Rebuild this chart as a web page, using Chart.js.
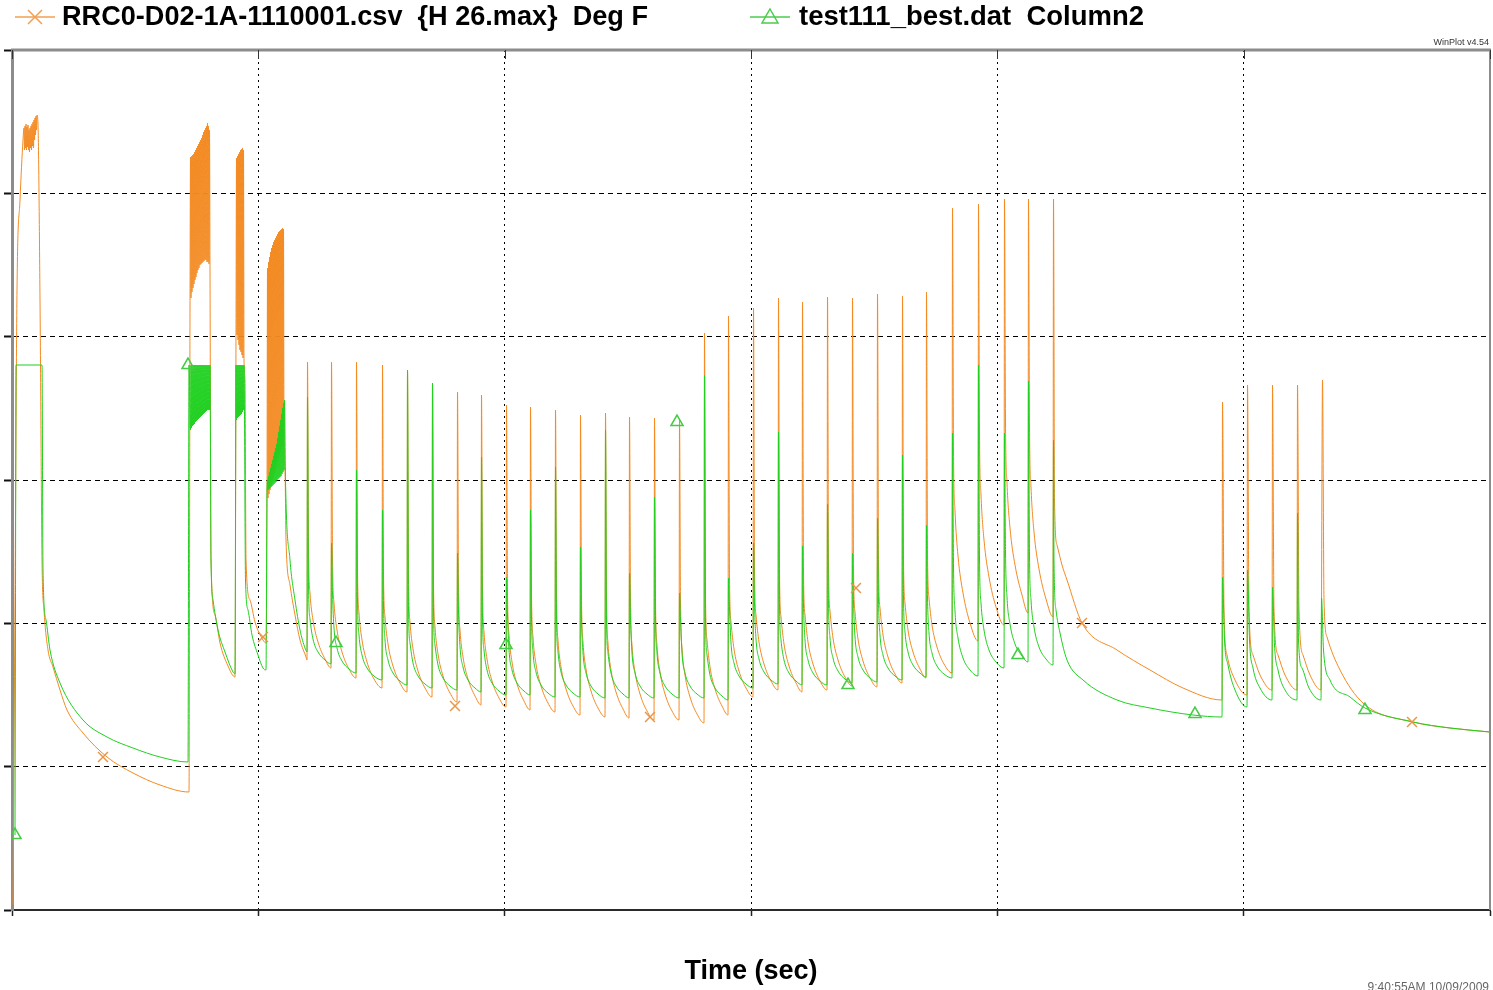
<!DOCTYPE html>
<html><head><meta charset="utf-8">
<script src="https://cdn.jsdelivr.net/npm/chart.js@4.4.1/dist/chart.umd.min.js"></script>
<style>html,body{margin:0;padding:0;background:#fff;overflow:hidden}#wrap{position:relative;width:1493px;height:990px}</style>
</head><body><div id="wrap"><canvas id="c"></canvas></div>
<script>
const seriesNames = ['RRC0-D02-1A-1110001.csv  {H 26.max}  Deg F', 'test111_best.dat  Column2'];
const timeTicks = [0, 246.33, 492.67, 739, 985.33, 1231.67, 1478];
const tempTicks = [-2, 141.33, 284.67, 428, 571.33, 714.67, 858];

const rrcPoints = [
[1,3],[3,308],[5,618],[8,708],[11,768],
[12,780],[12.5,758],[13,782],[13.5,760],[14,784],[14.5,758],[15,781],[15.5,761],[16,783],[16.5,758],[17,778],[17.5,756],[18,780],[18.5,760],[19,782],[19.5,758],[20,784],[20.5,762],[21,786],[21.5,760],[22,788],[22.5,768],[23,790],[23.5,773],[24,792],[24.5,778],[25,793],
[26,783],[28,608],[30,348],[32,298],[36,258],[41,241],[48,218],[55,198],[71,175],[95,151],[121,135],[148,123],[177,116],
[178,601],[178.5,751],[179,610],[179.5,752],[180,616],[180.5,753],[181,620],[181.5,754],[182,624],[182.5,756],[183,628],[183.5,758],[184,631],[184.5,760],[185,635],[185.5,762],[186,638],[186.5,764],[187,640],[187.5,766],[188,643],[188.5,768],[189,644],[189.5,770],[190,645],[190.5,773],[191,646],[191.5,776],[192,647],[192.5,778],[193,648],[193.5,780],[194,648],[194.5,782],[195,646],[195.5,785],[196,646],[196.5,782],[197,644],[197.5,778],
[198,638],[199,348],[203,293],[208,265],[216,242],[223,231],
[224,578],[224.5,750],[225,573],[225.5,752],[226,568],[226.5,754],[227,563],[227.5,756],[228,558],[228.5,758],[229,556],[229.5,759],[230,553],[230.5,760],[231,550],[231.5,758],[232,548],
[233,528],[234,348],[238,308],[243,286],[251,268],[254,265],
[255,408],[255.5,640],[256,410],[256.5,646],[257,414],[257.5,651],[258,418],[258.5,656],[259,422],[259.5,660],[260,426],[260.5,663],[261,430],[261.5,666],[262,434],[262.5,668],[263,438],[263.5,670],[264,442],[264.5,672],[265,446],[265.5,674],[266,450],[266.5,676],[267,453],[267.5,677],[268,456],[268.5,678],[269,459],[269.5,679],[270,462],[270.5,680],[271,465],[271.5,679],[272,468],
[273,438],[274,368],[278,323],[283,293],[288,268],[294,251],
[295,248],[295.5,546],[296.5,360],[298,315],[301,288],[306,266],[313,249],
[319,240],[319.5,546],[320.5,350],[322,305],[325,278],[330,256],[337,239],
[344,230],[344.5,546],[345.5,340],[347,295],[350,268],[355,246],[362,229],
[370,220],[370.5,543],[371.5,336],[373,291],[376,264],[381,242],[388,225],
[395,216],[395.5,538],[396.5,331],[398,286],[401,259],[406,237],[413,220],
[420,211],[420.5,523],[421.5,326],[423,281],[426,254],[431,232],[438,215],
[445,206],[445.5,516],[446.5,323],[448,278],[451,251],[456,229],[463,212],
[469,203],[469.5,513],[470.5,321],[472,276],[475,249],[480,227],[487,210],
[494,201],[494.5,503],[495.5,318],[497,273],[500,246],[505,224],[512,207],
[518,198],[518.5,501],[519.5,316],[521,271],[524,244],[529,222],[536,205],
[543,196],[543.5,498],[544.5,313],[546,268],[549,241],[554,219],[561,202],
[568,193],[568.5,493],[569.5,311],[571,266],[574,239],[579,217],[586,200],
[593,191],[593.5,495],[594.5,310],[596,265],[599,238],[604,216],[611,199],
[617,190],[617.5,491],[618.5,308],[620,263],[623,236],[628,214],[635,197],
[642,188],[642.5,490],[643.5,308],[645,263],[648,236],[653,214],[660,197],
[667,188],[667.5,488],[668.5,305],[670,260],[673,233],[678,211],[685,194],
[692,185],[692.5,575],[693.5,313],[695,268],[698,241],[703,219],[710,202],
[716,193],[716.5,592],[717.5,331],[719,286],[722,259],[727,237],[734,220],
[741,211],[741.5,600],[742.5,338],[744,293],[747,266],[752,244],[759,227],
[766,218],[766.5,610],[767.5,336],[769,291],[772,264],[777,242],[784,225],
[790,216],[790.5,606],[791.5,338],[793,293],[796,266],[801,244],[808,227],
[815,218],[815.5,611],[816.5,342],[818,297],[821,270],[826,248],[833,231],
[840,222],[840.5,610],[841.5,341],[843,296],[846,269],[851,247],[858,230],
[865,221],[865.5,614],[866.5,345],[868,300],[871,273],[876,251],[883,234],
[890,225],[890.5,612],[891.5,350],[893,305],[896,278],[901,256],[908,239],
[914,230],[914.5,616],[915.5,355],[917,310],[920,283],[925,261],[932,244],
[940,235],[940.5,700],[941.5,457],[943,397],[946,352],[951,315],[958,285],
[966,267],[966.5,704],[967.5,473],[969,413],[972,368],[977,331],[984,301],
[992,283],[992.5,709],[993.5,485],[995,425],[998,380],[1003,343],[1010,313],
[1016,295],[1016.5,709],[1017.5,481],[1019,421],[1022,376],[1027,339],[1034,309],
[1041,291],[1041.5,709],[1042.5,408],[1045,363],[1050,343],[1055,328],[1070,285],[1105,258],[1138,238],[1171,220],[1210,208],
[1210.5,506],[1212,298],[1215,253],[1223,228],[1235,213],
[1235.5,523],[1237,298],[1241,253],[1248,233],[1260,218],
[1260.5,523],[1262,298],[1266,253],[1273,233],[1285,218],
[1285.5,523],[1287,298],[1291,253],[1298,233],[1309,218],
[1310.5,528],[1312,308],[1315,271],[1328,238],[1351,205],[1401,186],[1438,180],[1478,176]
];

const simPoints = [
[3,73],[3.5,308],[4,543],[30,543],[31,338],[34,288],[38,258],[48,225],[71,188],[95,171],[121,160],[148,151],[176,146],[177,543],
[178.5,478],[179,543],[179.5,480],[180,543],[180.5,482],[181,543],[181.5,483],[182,543],[182.5,484],[183,543],[183.5,486],[184,543],[184.5,487],[185,543],[185.5,488],[186,543],[186.5,489],[187,543],[187.5,490],[188,543],[188.5,491],[189,543],[189.5,492],[190,543],[190.5,493],[191,543],[191.5,494],[192,543],[192.5,495],[193,543],[193.5,496],[194,543],[194.5,497],[195,543],[195.5,498],[196,543],[196.5,498],[197,543],[197.5,498],[198,543],
[199,348],[201,308],[206,278],[213,256],[221,236],[223,234],[224,543],
[224.5,488],[225,543],[225.5,490],[226,543],[226.5,491],[227,543],[227.5,492],[228,543],[228.5,493],[229,543],[229.5,494],[230,543],[230.5,496],[231,543],[231.5,498],[232,543],
[233.5,328],[236,298],[240,273],[246,253],[251,240],[254,238],[255,418],
[255.5,428],[256,418],[256.5,432],[257,419],[257.5,436],[258,420],[258.5,440],[259,421],[259.5,444],[260,422],[260.5,448],[261,423],[261.5,452],[262,424],[262.5,456],[263,425],[263.5,460],[264,426],[264.5,464],[265,428],[265.5,470],[266,429],[266.5,476],[267,430],[267.5,482],[268,431],[268.5,488],[269,432],[269.5,494],[270,434],[270.5,500],[271,436],[271.5,505],[272,438],[272.5,508],
[273.5,428],[278,348],[283,308],[288,278],[293,260],
[295,256],[295.5,511],[296.5,324],[298,289],[301,269],[306,256],[313,248],
[319,244],[319.5,365],[320.5,315],[322,280],[325,260],[330,247],[337,239],
[344,235],[344.5,438],[345.5,308],[347,273],[350,253],[355,240],[362,232],
[370,228],[370.5,398],[371.5,303],[373,268],[376,248],[381,235],[388,227],
[395,223],[395.5,538],[396.5,300],[398,265],[401,245],[406,232],[413,224],
[420,220],[420.5,525],[421.5,298],[423,263],[426,243],[431,230],[438,222],
[445,218],[445.5,355],[446.5,296],[448,261],[451,241],[456,228],[463,220],
[469,216],[469.5,451],[470.5,293],[472,258],[475,238],[480,225],[487,217],
[494,213],[494.5,331],[495.5,293],[497,258],[500,238],[505,225],[512,217],
[518,213],[518.5,398],[519.5,291],[521,256],[524,236],[529,223],[536,215],
[543,211],[543.5,441],[544.5,291],[546,256],[549,236],[554,223],[561,215],
[568,211],[568.5,361],[569.5,290],[571,255],[574,235],[579,222],[586,214],
[593,210],[593.5,478],[594.5,290],[596,255],[599,235],[604,222],[611,214],
[617,210],[617.5,335],[618.5,290],[620,255],[623,235],[628,222],[635,214],
[642,210],[642.5,411],[643.5,290],[645,255],[648,235],[653,222],[660,214],
[667,210],[667.5,315],[668.5,290],[670,255],[673,235],[678,222],[685,214],
[692,210],[692.5,533],[693.5,288],[695,253],[698,233],[703,220],[710,212],
[716,208],[716.5,330],[717.5,300],[719,265],[722,245],[727,232],[734,224],
[741,220],[741.5,365],[742.5,304],[744,269],[747,249],[752,236],[759,228],
[766,224],[766.5,476],[767.5,303],[769,268],[772,248],[777,235],[784,227],
[790,223],[790.5,362],[791.5,303],[793,268],[796,248],[801,235],[808,227],
[815,223],[815.5,404],[816.5,305],[818,270],[821,250],[826,237],[833,229],
[840,225],[840.5,355],[841.5,306],[843,271],[846,251],[851,238],[858,230],
[865,226],[865.5,390],[866.5,308],[868,273],[871,253],[876,240],[883,232],
[890,228],[890.5,453],[891.5,311],[893,276],[896,256],[901,243],[908,235],
[914,231],[914.5,383],[915.5,310],[917,275],[920,255],[925,242],[932,234],
[940,230],[940.5,475],[941.5,342],[943,297],[946,270],[951,250],[958,238],
[966,232],[966.5,543],[967.5,350],[969,305],[972,278],[977,258],[984,246],
[992,240],[992.5,475],[993.5,356],[995,311],[998,284],[1003,264],[1010,252],
[1016,246],[1016.5,527],[1017.5,353],[1019,308],[1022,281],[1027,261],[1034,249],
[1041,243],[1041.5,468],[1042,348],[1044,298],[1048,275],[1055,248],[1071,228],[1105,208],[1138,200],[1181,193],[1210,191],
[1210.5,331],[1212.5,268],[1216,243],[1223,218],[1235,201],
[1235.5,338],[1237.5,268],[1241,240],[1248,220],[1260,208],
[1260.5,321],[1262.5,263],[1266,238],[1273,218],[1285,208],
[1285.5,395],[1286.5,268],[1290,240],[1297,220],[1309,208],
[1309.5,310],[1311.5,258],[1318,228],[1338,211],[1353,200],[1401,186],[1438,180],[1478,176]
];

const rrcMarkers = [[91,151],[251,271],[443,202],[638,191],[844,320],[1070,285],[1400,186]];
const simMarkers = [[3,73],[176,543],[324,265],[494,263],[665,486],[836,223],[1006,253],[1183,194],[1353,198]];

const ORANGE = '#F38A22';
const GREEN = '#1FD01F';
const toXY = a => a.map(p => ({x: p[0], y: p[1]}));

const framePlugin = {
  id: 'winplotFrame',
  afterDraw(chart) {
    const ctx = chart.ctx, a = chart.chartArea;
    ctx.save();
    ctx.strokeStyle = '#8c8c8c';
    ctx.lineWidth = 3;
    ctx.beginPath(); ctx.moveTo(a.left - 1, a.top); ctx.lineTo(a.right + 1, a.top); ctx.stroke();
    ctx.lineWidth = 2;
    ctx.beginPath(); ctx.moveTo(a.right, a.top); ctx.lineTo(a.right, a.bottom); ctx.stroke();
    ctx.strokeStyle = '#333'; ctx.lineWidth = 1;
    const xs = chart.scales.x;
    timeTicks.forEach(v => {
      const px = Math.round(xs.getPixelForValue(v)) + 0.5;
      ctx.beginPath(); ctx.moveTo(px, a.top); ctx.lineTo(px, a.top + 9); ctx.stroke();
    });
    const items = [
      {x0: 15, x1: 55, tx: 62, color: '#F0A050', style: 'cross', text: seriesNames[0], w: 586},
      {x0: 750, x1: 790, tx: 799, color: '#4CCB4C', style: 'tri', text: seriesNames[1], w: 345}
    ];
    const ly = 17;
    items.forEach(it => {
      ctx.strokeStyle = it.color; ctx.lineWidth = 1.5;
      ctx.beginPath(); ctx.moveTo(it.x0, ly); ctx.lineTo(it.x1, ly); ctx.stroke();
      const cx = (it.x0 + it.x1) / 2;
      if (it.style === 'cross') {
        ctx.beginPath();
        ctx.moveTo(cx - 7, ly - 7); ctx.lineTo(cx + 7, ly + 7);
        ctx.moveTo(cx - 7, ly + 7); ctx.lineTo(cx + 7, ly - 7);
        ctx.stroke();
      } else {
        ctx.beginPath();
        ctx.moveTo(cx, ly - 8); ctx.lineTo(cx + 8, ly + 6); ctx.lineTo(cx - 8, ly + 6); ctx.closePath();
        ctx.stroke();
      }
      ctx.font = 'bold 27px "Liberation Sans", Arial, sans-serif';
      ctx.fillStyle = '#000';
      ctx.textBaseline = 'middle';
      ctx.textAlign = 'left';
      const mw = ctx.measureText(it.text).width;
      ctx.save();
      ctx.translate(it.tx, ly + 1);
      ctx.scale(it.w / mw, 1);
      ctx.fillText(it.text, 0, 0);
      ctx.restore();
    });
    ctx.font = '9px "Liberation Sans", Arial, sans-serif';
    ctx.fillStyle = '#333';
    ctx.textAlign = 'right';
    ctx.textBaseline = 'middle';
    ctx.fillText('WinPlot v4.54', 1489, 43);
    ctx.font = '12px "Liberation Sans", Arial, sans-serif';
    ctx.fillStyle = '#666';
    ctx.fillText('9:40:55AM 10/09/2009', 1489, 988);
    ctx.restore();
  }
};

new Chart(document.getElementById('c'), {
  type: 'line',
  data: {
    datasets: [
      {label: seriesNames[1] + ' markers', type: 'scatter', data: toXY(simMarkers), showLine: false, pointStyle: 'triangle', pointRadius: 7, borderColor: '#44CC44', backgroundColor: 'rgba(255,255,255,0)', borderWidth: 1.5, order: 0},
      {label: seriesNames[0] + ' markers', type: 'scatter', data: toXY(rrcMarkers), showLine: false, pointStyle: 'crossRot', pointRadius: 7, borderColor: '#E8964A', borderWidth: 1.5, order: 1},
      {label: seriesNames[1], data: toXY(simPoints), borderColor: GREEN, borderWidth: 1, pointRadius: 0, cubicInterpolationMode: 'monotone', fill: false, order: 2},
      {label: seriesNames[0], data: toXY(rrcPoints), borderColor: ORANGE, borderWidth: 1, pointRadius: 0, cubicInterpolationMode: 'monotone', fill: false, order: 3}
    ]
  },
  options: {
    responsive: true,
    maintainAspectRatio: false,
    animation: false,
    devicePixelRatio: 1,
    events: [],
    layout: {autoPadding: false, padding: {top: 50, left: 4, right: 3, bottom: 0}},
    plugins: {legend: {display: false}, tooltip: {enabled: false}, title: {display: false}},
    scales: {
      x: {
        type: 'linear', min: 0, max: 1478,
        afterBuildTicks: s => { s.ticks = timeTicks.map(v => ({value: v})); },
        ticks: {display: false},
        grid: {color: '#000', lineWidth: 1, drawTicks: true, tickLength: 6, tickColor: '#222', tickWidth: 1.5},
        border: {display: true, color: '#2a2a2a', width: 2, dash: [2, 4]},
        title: {display: true, text: 'Time (sec)', color: '#000', font: {family: '"Liberation Sans", Arial, sans-serif', size: 27, weight: 'bold'}, padding: {top: 39.8, bottom: 1.8}}
      },
      y: {
        type: 'linear', min: -2, max: 858,
        afterBuildTicks: s => { s.ticks = tempTicks.map(v => ({value: v})); },
        ticks: {display: false},
        grid: {color: '#000', lineWidth: 1, drawTicks: true, tickLength: 8, tickColor: '#111', tickWidth: 2},
        border: {display: true, color: '#8c8c8c', width: 3, dash: [5, 4]}
      }
    }
  },
  plugins: [framePlugin]
});
</script>
</body></html>
